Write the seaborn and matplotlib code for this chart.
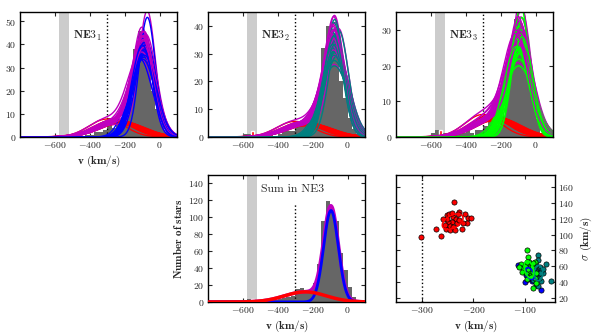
import numpy as np
import pandas as pd
import matplotlib
matplotlib.use("Agg")
import matplotlib.pyplot as plt
import seaborn as sns

sns.set_style("ticks")
plt.rcParams.update({
    "font.family": "serif",
    "font.serif": ["cmr10"],
    "mathtext.fontset": "cm",
    "axes.formatter.use_mathtext": True,
    "xtick.direction": "in", "ytick.direction": "in",
    "xtick.top": True, "ytick.right": True,
    "xtick.labelsize": 7, "ytick.labelsize": 7,
    "axes.linewidth": 1.0,
    "xtick.major.size": 3, "ytick.major.size": 3,
    "xtick.major.pad": 2.5, "ytick.major.pad": 2.5,
    "axes.edgecolor": "black",
})

# ---- histogram data (25 km/s bins from -800 to 100) ----
bin_edges = np.arange(-800, 101, 25)
counts_ne3_1 = [0, 0, 0, 0, 0, 0, 0, 0, 0, 1, 0, 0, 0, 1, 0, 1,
                1, 2, 2, 3, 8, 4, 5, 5, 8, 16, 38, 46, 42, 33, 20, 12,
                6, 2, 1, 0]
counts_ne3_2 = [0, 0, 0, 0, 0, 0, 0, 0, 1, 1, 0, 0, 0, 0, 1, 0,
                1, 2, 2, 2, 4, 5, 4, 6, 8, 15, 32, 40, 38, 33, 20, 14,
                7, 3, 1, 0]
counts_ne3_3 = [0, 0, 0, 0, 0, 0, 0, 0, 1, 2, 1, 1, 0, 1, 2, 1,
                2, 1, 2, 2, 3, 7, 5, 3, 6, 14, 26, 33, 32, 30, 18, 12,
                5, 1, 0, 0]
# few stars flagged in red near -550 km/s
halo_v = [-545]
halo_1 = [0]
halo_2 = [2]
halo_3 = [2]
halo_sum = [3]

# ---- fitted (v, sigma) samples, also shown in the scatter panel ----
red_v = [-302, -272, -262, -237, -227, -216, -210, -205, -213, -223, -253, -245,
         -252, -247, -240, -234, -242, -250, -255, -245, -239, -231, -228, -220,
         -251, -236, -258, -242, -230]
red_s = [96.5, 107, 98, 141, 129, 125.5, 120.5, 120.5, 114, 106.6, 107, 105.7,
         124.7, 125.5, 122.5, 119, 116, 116, 112, 110.8, 110, 115, 118, 114,
         119, 105.7, 119, 126.8, 125.5]
blue_v = [-113, -100, -86, -70, -83, -75.5, -95, -90, -92, -88, -97, -85,
          -93, -90, -98, -87, -94, -91, -84, -96, -89, -92, -86, -99]
blue_s = [61.5, 39.7, 42, 30.3, 51.4, 47, 55, 50, 58, 45, 52, 56,
          48, 60, 57, 53, 44, 54, 49, 62, 47, 51, 58, 49]
teal_v = [-75.6, -59.5, -50, -66, -72, -69, -74, -77, -70, -78, -74, -81.5,
          -75.6, -65, -79, -85, -80, -76, -82, -73, -78, -71, -84, -79]
teal_s = [74, 62.7, 42, 51.4, 59.4, 55, 47, 53, 41, 37, 35, 41,
          67.6, 56, 49, 43, 55, 50, 58, 45, 62, 52, 52, 46]
green_v = [-97, -95, -107, -104, -81.6, -92.6, -99, -88, -81.5, -78, -85, -91,
           -86, -94, -100, -89, -97, -85, -106, -93, -85, -97, -78, -111]
green_s = [80.4, 71.9, 62.7, 57.3, 65.2, 53, 51.4, 49.3, 45, 38.7, 32.4, 61.5,
           59.4, 56, 60, 47, 43.9, 53, 53, 65.7, 63.6, 66, 51.4, 59.4]

# stars per component in each field
n_red = {"1": 80, "2": 58, "3": 65}
n_main = {"1": 240, "2": 210, "3": 175}
# summed fit
sum_red = (-242, 120, 144)
sum_main = (-95, 42, 455)

BW = 25       # bin width
ERR = 35      # typical velocity error, broadens the model curves
BAND = (-578, -518)
VCUT = -300


def gauss(x, v, s, n):
    return n * BW / (s * np.sqrt(2 * np.pi)) * np.exp(-0.5 * ((x - v) / s) ** 2)


def broad(s):
    return np.sqrt(s ** 2 + ERR ** 2)


xs = np.linspace(-800, 100, 500)
centers = (bin_edges[:-1] + bin_edges[1:]) / 2

fig = plt.figure(figsize=(5.98, 3.34), dpi=100)
W = 157 / 598
H1 = 125 / 334
ax1 = fig.add_axes([20 / 598, 197 / 334, W, H1])
ax2 = fig.add_axes([208 / 598, 197 / 334, W, H1])
ax3 = fig.add_axes([396 / 598, 197 / 334, W, H1])
ax4 = fig.add_axes([208 / 598, 32 / 334, W, 127 / 334])
ax5 = fig.add_axes([396 / 598, 32 / 334, 159 / 598, 127 / 334])


def hist_panel(ax, counts, halo, cut_top=1.0):
    ax.axvspan(*BAND, color="#cccccc", lw=0, zorder=0)
    df = pd.DataFrame({"v": centers, "n": counts})
    sns.histplot(data=df, x="v", weights="n", binwidth=BW, binrange=(-800, 100),
                 color="#666666", alpha=1, linewidth=0, ax=ax, zorder=1)
    ax.bar(halo_v, halo, width=12, color="red", zorder=1.5)
    ax.axvline(VCUT, ymax=cut_top, color="black", ls=":", lw=1.0, zorder=1.2)
    ax.set_xlim(-800, 100)
    ax.set_xticks([-600, -400, -200, 0])
    ax.set_ylabel("")
    ax.set_xlabel("")


panels = [(ax1, counts_ne3_1, halo_1, "1", blue_v, blue_s, "blue", 54, range(0, 51, 10)),
          (ax2, counts_ne3_2, halo_2, "2", teal_v, teal_s, "teal", 45, range(0, 41, 10)),
          (ax3, counts_ne3_3, halo_3, "3", green_v, green_s, "lime", 35, range(0, 31, 10))]

for ax, counts, halo, key, mv, ms, col, ytop, yt in panels:
    hist_panel(ax, counts, halo)
    reds = [gauss(xs, rv, broad(rs), n_red[key]) for rv, rs in zip(red_v, red_s)]
    mains = [gauss(xs, v, broad(s), n_main[key]) for v, s in zip(mv, ms)]
    # red components first, then each sample's total and main component
    for r in reds[:len(mains)]:
        ax.plot(xs, r, color="red", lw=1.0, zorder=2)
    z = 2.1
    for r, m in zip(reds, mains):
        ax.plot(xs, r + m, color="m", lw=1.0, zorder=z)
        ax.plot(xs, m, color=col, lw=1.0, zorder=z + 0.001)
        z += 0.002
    ax.set_ylim(0, ytop)
    ax.set_yticks(list(yt))
    ax.text(0.34, 0.81, r"$\mathbf{NE3}_{%s}$" % key, transform=ax.transAxes,
            ha="left", va="center", fontsize=8.5)

ax1.set_xlabel(r"$\mathbf{v\ (km/s)}$", fontsize=8, labelpad=2)

# summed field
hist_panel(ax4, [a + b + c for a, b, c in zip(counts_ne3_1, counts_ne3_2, counts_ne3_3)],
           halo_sum, cut_top=0.78)
r = gauss(xs, *sum_red)
m = gauss(xs, *sum_main)
sns.lineplot(x=xs, y=m, color="blue", lw=2.0, ax=ax4, zorder=3)
sns.lineplot(x=xs, y=r, color="red", lw=2.5, ax=ax4, zorder=3)
sns.lineplot(x=xs, y=r + m, color="m", lw=2.5, ax=ax4, zorder=2.5)
ax4.set_ylim(0, 150)
ax4.set_yticks(range(0, 141, 20))
ax4.text(0.34, 0.89, "Sum in NE3", transform=ax4.transAxes, ha="left", va="center", fontsize=8.5)
ax4.set_xlabel(r"$\mathbf{v\ (km/s)}$", fontsize=8, labelpad=2)
ax4.set_ylabel(r"$\mathbf{Number\ of\ stars}$", fontsize=8, labelpad=3)


def ellipse(ax, v, s, col):
    pts = np.vstack([v, s])
    mu = pts.mean(axis=1)
    vals, vecs = np.linalg.eigh(np.cov(pts))
    t = np.linspace(0, 2 * np.pi, 100)
    circ = np.vstack([np.cos(t), np.sin(t)]) * np.sqrt(vals)[:, None]
    e = vecs @ circ + mu[:, None]
    ax.plot(e[0], e[1], color=col, lw=1.2, zorder=4)


ax5.axvline(VCUT, color="black", ls=":", lw=1.0)
for v, s, col in [(red_v, red_s, "red"), (blue_v, blue_s, "blue"),
                  (teal_v, teal_s, "teal"), (green_v, green_s, "lime")]:
    sns.scatterplot(x=v, y=s, color=col, s=14, edgecolor="black", linewidth=0.5,
                    ax=ax5, zorder=3)
    ellipse(ax5, v, s, col)
ax5.set_xlim(-350, -42)
ax5.set_ylim(15, 175)
ax5.set_xticks([-300, -200, -100])
ax5.set_yticks(range(20, 161, 20))
ax5.yaxis.tick_right()
ax5.tick_params(axis="y", left=True, right=True, labelleft=False, labelright=True)
ax5.yaxis.set_label_position("right")
ax5.set_ylabel(r"$\sigma$ $\mathbf{(km/s)}$", fontsize=8, labelpad=3)
ax5.set_xlabel(r"$\mathbf{v\ (km/s)}$", fontsize=8, labelpad=2)

fig.savefig("out.png", dpi=100)
